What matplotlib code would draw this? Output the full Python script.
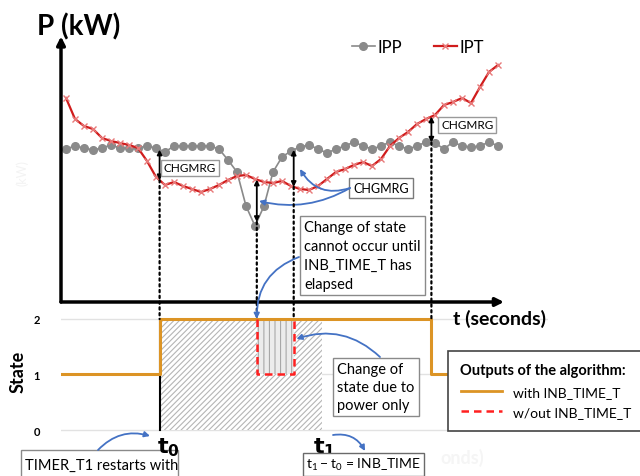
import numpy as np
import matplotlib.pyplot as plt
from matplotlib.patches import ConnectionPatch, Rectangle
from matplotlib.lines import Line2D

plt.rcParams['font.family'] = ['Lato', 'DejaVu Sans']
plt.rcParams['hatch.linewidth'] = 0.8

# one sample per marker
t = np.arange(49)
ipp = [15.3, 15.6, 15.4, 15.2, 15.4, 15.7, 15.4, 15.4, 15.4, 15.6, 15.4, 15.0,
       15.6, 15.6, 15.6, 15.6, 15.6, 15.3, 14.2, 13.0, 9.6, 7.6, 9.6, 13.0,
       14.5, 15.1, 15.5, 15.7, 15.3, 14.9, 15.3, 15.6, 16.0, 15.6, 15.3, 15.6,
       16.0, 15.6, 15.3, 15.6, 16.0, 15.9, 15.3, 16.0, 15.6, 15.5, 15.6, 16.0, 15.6]
ipt = [20.4, 18.3, 17.6, 17.3, 16.4, 16.1, 15.9, 15.7, 15.4, 14.1, 12.5, 11.7,
       12.0, 11.6, 11.3, 11.0, 11.3, 11.7, 12.2, 12.6, 12.7, 12.3, 12.0, 11.9,
       12.1, 11.6, 11.3, 11.2, 11.6, 12.3, 13.0, 13.3, 13.7, 14.0, 13.6, 14.3,
       15.6, 16.4, 17.0, 17.8, 18.3, 18.7, 19.7, 20.0, 20.4, 19.9, 21.5, 23.0, 23.7]

# event times
t0 = 10.4
t_dip_a = 21.2
t_dip_b = 25.3
t1 = 28.4
t_end = 40.6
events = [t0, t_dip_a, t_dip_b, t_end]

# algorithm output
state_t = [-0.6, t0, t_end, 42.4]
state_with = [1, 2, 1, 1]
state_wo_t = [t_dip_a, t_dip_a, t_dip_b, t_dip_b]
state_wo = [2, 1, 1, 2]

W, H = 640, 477
fig = plt.figure(figsize=(6.4, 4.77), dpi=100)


def fx(px):
    return px / W


def fy(py):
    return 1 - py / H


def tx(px):
    return (px - 66) / 9


def ptop(py):
    return (303 - py) / 10


def pstate(py):
    return 2 - (py - 320) / 55.5


ax = fig.add_axes([fx(61), fy(303), fx(548) - fx(61), fy(40) - fy(303)])
axs = fig.add_axes([fx(61), fy(441), fx(548) - fx(61), fy(303) - fy(441)])
xlim = (tx(61), tx(548))
for a in (ax, axs):
    a.set_xlim(*xlim)
    a.patch.set_alpha(0)
    for s in a.spines.values():
        s.set_visible(False)
    a.set_xticks([])
ax.set_ylim(0, 26.3)
ax.set_yticks([])
axs.set_ylim(-0.18, 2.306)
axs.set_yticks([0, 1, 2])
axs.set_yticklabels(['0', '1', '2'], fontweight='bold')
axs.tick_params(axis='y', length=0, pad=15, labelsize=8)
axs.grid(axis='y', color='#e2e2e2', lw=1)
axs.set_axisbelow(True)

# power axes arrows
ax.annotate('', xy=(0, 1.01), xycoords='axes fraction', xytext=(0, 0),
            arrowprops=dict(arrowstyle='-|>', lw=2.5, color='k', mutation_scale=12,
                            shrinkA=0, shrinkB=0), annotation_clip=False)
ax.annotate('', xy=(tx(504), 0), xytext=(xlim[0], 0),
            arrowprops=dict(arrowstyle='-|>', lw=2.5, color='k', mutation_scale=12,
                            shrinkA=0, shrinkB=0), annotation_clip=False)

ax.plot(t, ipp, color='#8a8a8a', marker='o', ms=5.5, lw=1.2, label='IPP')
ax.plot(t, ipt, color='#d01c1c', marker='x', ms=4, mec='#e87a7a', mew=1,
        lw=1.6, label='IPT')
fig.legend(loc='upper left', bbox_to_anchor=(fx(345), fy(33)), ncol=2,
           frameon=False, fontsize=12, handlelength=1.4, handletextpad=0.15,
           columnspacing=1.9, borderaxespad=0)

ipp_ev = np.interp(events, t, ipp)
ipt_ev = np.interp(events, t, ipt)

# dotted guides from the power curves down to the state plot
for te, a_, b_ in zip(events, ipp_ev, ipt_ev):
    con = ConnectionPatch(xyA=(te, min(a_, b_)), coordsA=ax.transData,
                          xyB=(te, 2), coordsB=axs.transData,
                          ls=(0, (1, 1.6)), lw=1.6, color='k')
    fig.add_artist(con)
    ax.annotate('', xy=(te, a_), xytext=(te, b_),
                arrowprops=dict(arrowstyle='<|-|>', lw=1.3, color='k',
                                mutation_scale=7, shrinkA=0, shrinkB=0))

box = dict(boxstyle='square,pad=0.25', fc='white', ec='#9a9a9a', lw=1)
ax.text(tx(164), ptop(169), 'CHGMRG', fontsize=8.5, va='center', bbox=box)
ax.text(tx(441), ptop(126), 'CHGMRG', fontsize=8.5, va='center', bbox=box)
ax.text(tx(353), ptop(189), 'CHGMRG', fontsize=9, va='center',
        bbox=dict(boxstyle='square,pad=0.35', fc='white', ec='#7a7a7a', lw=1))

blue = '#4472c4'
ax.annotate('', xy=(tx(300), ptop(170)), xytext=(tx(350), ptop(189)),
            arrowprops=dict(arrowstyle='-|>', color=blue, lw=1.3, mutation_scale=8,
                            connectionstyle='arc3,rad=-0.4', shrinkA=0, shrinkB=0))
ax.annotate('', xy=(tx(259), ptop(202)), xytext=(tx(350), ptop(189)),
            arrowprops=dict(arrowstyle='-|>', color=blue, lw=1.3, mutation_scale=8,
                            connectionstyle='arc3,rad=-0.2', shrinkA=0, shrinkB=0))

ax.text(tx(304), ptop(221), 'Change of state\ncannot occur until\nINB_TIME_T has\nelapsed',
        fontsize=10.5, va='top', linespacing=1.45,
        bbox=dict(boxstyle='square,pad=0.3', fc='white', ec='#8a8a8a', lw=1))

# state plot
axs.fill_between([t0, t1], 0, 2, facecolor='white', hatch='//////',
                 edgecolor='#b5b5b5', lw=0)
axs.fill_between([t_dip_a, t_dip_b], 1, 2, facecolor='#ececec', hatch='|||',
                 edgecolor='#a8a8a8', lw=0)
axs.plot([t0, t0], [0, 2], color='k', lw=1.5)
axs.plot(state_t, state_with, drawstyle='steps-post', color='#dc9425', lw=2.2)
axs.plot(state_wo_t, state_wo, color='#ff2020', lw=1.8, ls=(0, (3, 2)))
axs.set_ylabel('State', fontsize=13, fontweight='bold', labelpad=5)

con = ConnectionPatch(xyA=(tx(299), ptop(258)), coordsA=ax.transData,
                      xyB=(t_dip_a, 2), coordsB=axs.transData,
                      arrowstyle='-|>', color=blue, lw=1.3, mutation_scale=8,
                      connectionstyle='arc3,rad=0.35', shrinkA=0, shrinkB=0)
fig.add_artist(con)

axs.text(tx(337), pstate(363), 'Change of\nstate due to\npower only', fontsize=10.5,
         va='top', linespacing=1.35,
         bbox=dict(boxstyle='square,pad=0.3', fc='white', ec='#8a8a8a', lw=1))
axs.annotate('', xy=(t_dip_b + 0.3, pstate(340)), xytext=(tx(380), pstate(358)),
             arrowprops=dict(arrowstyle='-|>', color=blue, lw=1.3, mutation_scale=8,
                             connectionstyle='arc3,rad=0.3', shrinkA=0, shrinkB=0))

handles = [Line2D([], [], color='#dc9425', lw=2),
           Line2D([], [], color='#ff2020', lw=1.8, ls=(0, (3, 2)))]
leg = fig.legend(handles, ['with INB_TIME_T', 'w/out INB_TIME_T'],
                 title='Outputs of the algorithm:', loc='upper left',
                 bbox_to_anchor=(fx(448), fy(352)), fontsize=10,
                 title_fontproperties={'weight': 'bold', 'size': 10.5},
                 alignment='left', handlelength=3.0, fancybox=False,
                 edgecolor='#444', framealpha=1, borderpad=0.9,
                 labelspacing=0.6, borderaxespad=0)
leg.get_frame().set_linewidth(1.2)

# labels and notes around the axes
fig.text(fx(37), fy(35), 'P (kW)', fontsize=20, fontweight='bold')
fig.text(fx(453), fy(325), 't (seconds)', fontsize=14, fontweight='bold')
fig.text(fx(22), fy(173), '(kW)', fontsize=9, color='#f3f3f3', rotation=90,
         va='center', ha='center')
fig.text(fx(440), fy(464), 'onds)', fontsize=13, color='#f5f5f5',
         fontweight='bold')
fig.text(fx(157), fy(453), r'$\mathbf{t_0}$', fontsize=16)
fig.text(fx(313), fy(453), r'$\mathbf{t_1}$', fontsize=16)

fig.add_artist(Rectangle((fx(21), fy(485)), fx(178) - fx(21), fy(451) - fy(485),
                         transform=fig.transFigure, fc='white', ec='#8a8a8a', lw=1))
fig.text(fx(25), fy(470), 'TIMER_T1 restarts with', fontsize=10.5)
fig.text(fx(306), fy(469), r'$\mathregular{t_1 - t_0}$ = INB_TIME', fontsize=10,
         bbox=dict(boxstyle='square,pad=0.25', fc='white', ec='#6a6a6a', lw=1))

for start, end, rad in [((98, 451), (150, 437), -0.3), ((333, 436), (365, 452), -0.35)]:
    fig.add_artist(ConnectionPatch(xyA=(fx(start[0]), fy(start[1])), coordsA=fig.transFigure,
                                   xyB=(fx(end[0]), fy(end[1])), coordsB=fig.transFigure,
                                   arrowstyle='-|>', color=blue, lw=1.3, mutation_scale=8,
                                   connectionstyle=f'arc3,rad={rad}', shrinkA=0, shrinkB=0))

fig.savefig('out.png', dpi=100)
